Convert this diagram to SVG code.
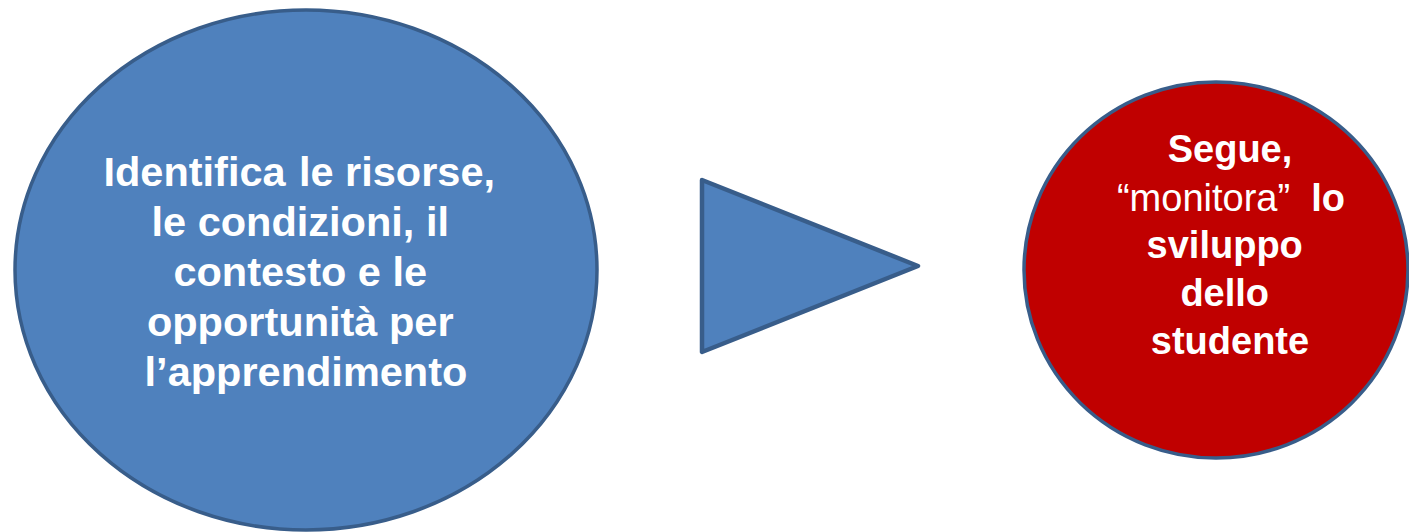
<svg xmlns="http://www.w3.org/2000/svg" width="1409" height="532" viewBox="0 0 1409 532">
<style>
.shape{stroke:#385d8a;stroke-width:3.5;stroke-linejoin:round}
.t{font-family:"Liberation Sans",Arial,sans-serif;fill:#ffffff;text-anchor:middle}
.b{font-weight:bold}
</style>
<rect width="1409" height="532" fill="#ffffff"/>
<g id="node-identifica">
<ellipse class="shape" cx="306" cy="270" rx="291" ry="260" fill="#4f81bd"/>
<text class="t b" font-size="41.5">
<tspan x="305" y="186">Identifica<tspan font-size="48"> </tspan>le risorse,</tspan>
<tspan x="306" y="236">le condizioni, il</tspan>
<tspan x="306" y="286">contesto e le</tspan>
<tspan x="306" y="336">opportunità per</tspan>
<tspan x="306" y="386">l’apprendimento</tspan>
</text>
</g>
<g id="connectors">
<polygon id="arrow" class="shape" style="stroke-width:4.5" points="702,180 918,266 702,352" fill="#4f81bd"/>
</g>
<g id="node-segue">
<ellipse class="shape" cx="1216" cy="270" rx="192" ry="188" fill="#c00000"/>
<text class="t" font-size="38">
<tspan class="b" x="1230" y="162">Segue,</tspan>
</text>
<text class="t" font-size="38" x="1231" y="211">“monitora”&#160; <tspan class="b">lo</tspan></text>
<text class="t b" font-size="38">
<tspan x="1230" y="258">sviluppo</tspan>
<tspan x="1230" y="306">dello</tspan>
<tspan x="1230" y="354">studente</tspan>
</text>
</g>
</svg>
